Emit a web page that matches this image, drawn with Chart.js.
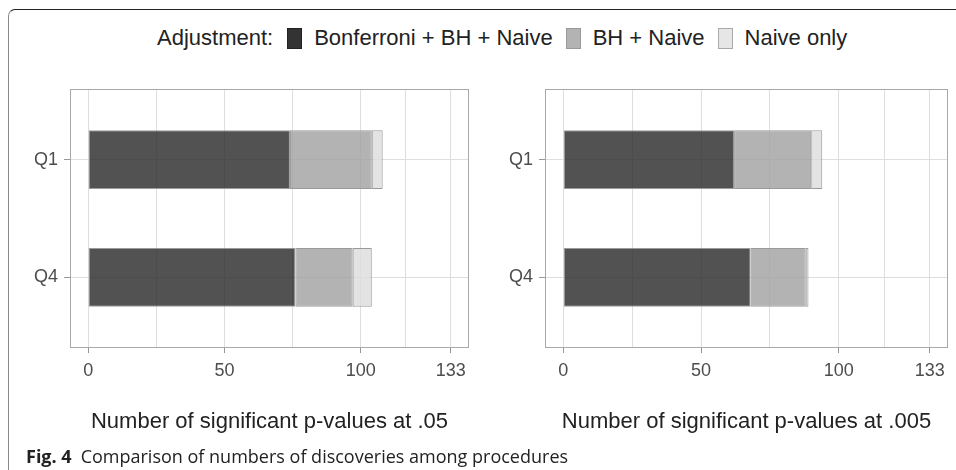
<!DOCTYPE html>
<html>
<head>
<meta charset="utf-8">
<script src="https://cdn.jsdelivr.net/npm/chart.js@4/dist/chart.umd.min.js"></script>
<style>
  body { margin: 0; background: #fff; }
  #page { position: relative; width: 956px; height: 470px; overflow: hidden; background: #fff; }
  #frame { position: absolute; left: 8px; top: 9px; width: 960px; height: 470px;
           border-left: 1.5px solid #8a8a8a; border-top: 1.5px solid #222; border-top-left-radius: 7px; }
  #legend { position: absolute; left: 157px; top: 27px; height: 22px; display: flex; align-items: center;
            font: 22px "Liberation Sans", Arial, sans-serif; color: #222; white-space: nowrap; }
  #legend .sw { width: 15px; height: 21px; box-sizing: border-box; margin: 0 12px 0 0; border: 1px solid #999; }
  #legend .lbl { margin-right: 13px; }
  canvas { position: absolute; }
  #caption { position: absolute; left: 26px; top: 444px; font: 18px "Open Sans", sans-serif; color: #222; white-space: nowrap; }
  #caption b { margin-right: 9px; }
</style>
</head>
<body>
<div id="page">
  <div id="frame"></div>
  <div id="legend"></div>
  <canvas id="left" width="470" height="400" style="left:10px;top:60px;width:470px;height:400px"></canvas>
  <canvas id="right" width="471" height="400" style="left:485px;top:60px;width:471px;height:400px"></canvas>
  <div id="caption"><b>Fig. 4</b>Comparison of numbers of discoveries among procedures</div>
</div>
<script>
// chart data
const categories = ['Q1', 'Q4'];
const seriesNames = ['Bonferroni + BH + Naive', 'BH + Naive', 'Naive only'];
const bonf05 = [74, 76];
const bh05 = [30, 21];
const naive05 = [4, 7];
const bonf005 = [62, 68];
const bh005 = [28, 20];
const naive005 = [4, 1];
const xTicks = [0, 25, 50, 75, 100, 116.5, 133];
const xLabels = [0, 50, 100, 133];

const fills = ['rgba(39,39,39,0.8)', 'rgba(160,160,160,0.8)', 'rgba(220,220,220,0.8)'];
const swatches = [['#333333', '#222222'], ['#b3b3b3', '#999999'], ['#e6e6e6', '#aaaaaa']];

Chart.defaults.font.family = '"Liberation Sans", Arial, sans-serif';

// legend built from the series names
const legend = document.getElementById('legend');
let html = '<span style="margin-right:14px">Adjustment:</span>';
seriesNames.forEach(function(name, i) {
  html += '<span class="sw" style="background:' + swatches[i][0] + ';border-color:' + swatches[i][1] + '"></span>' +
          '<span class="lbl">' + name + '</span>';
});
legend.innerHTML = html;

// panel border drawn on top of the plot area
const panelBox = {
  id: 'panelBox',
  afterDraw(chart) {
    const a = chart.chartArea;
    const c = chart.ctx;
    c.save();
    c.strokeStyle = '#a8a8a8';
    c.lineWidth = 1;
    c.strokeRect(Math.round(a.left) + 0.5, Math.round(a.top) + 0.5,
                 Math.round(a.right - a.left) - 1, Math.round(a.bottom - a.top) - 1);
    c.restore();
  }
};

function makePanel(id, series, title, padRight) {
  const datasets = series.map(function(vals, s) {
    return {
      label: seriesNames[s],
      data: categories.map((c, i) => ({ x: vals[i], y: i + 1 })),
      backgroundColor: fills[s],
      borderColor: '#9a9a9a',
      borderWidth: 1,
      borderSkipped: false,
      categoryPercentage: 0.5,
      barPercentage: 1
    };
  });

  new Chart(document.getElementById(id).getContext('2d'), {
    type: 'bar',
    data: { datasets: datasets },
    options: {
      indexAxis: 'y',
      responsive: false,
      animation: false,
      layout: { padding: { top: 29, right: padRight, bottom: 0, left: 0 } },
      plugins: { legend: { display: false }, tooltip: { enabled: false } },
      scales: {
        x: {
          type: 'linear',
          stacked: true,
          min: -6.65,
          max: 139.65,
          afterBuildTicks: s => { s.ticks = xTicks.map(v => ({ value: v })); },
          afterFit: s => { s.height = 112; },
          ticks: {
            autoSkip: false,
            maxRotation: 0,
            padding: 7,
            color: '#4d4d4d',
            font: { size: 18 },
            callback: v => xLabels.includes(v) ? String(v) : ''
          },
          grid: {
            color: '#dedede',
            tickLength: 5,
            tickColor: ctx => xLabels.includes(ctx.tick.value) ? '#999' : 'rgba(0,0,0,0)'
          },
          border: { display: false },
          title: {
            display: true,
            text: title,
            color: '#222',
            font: { size: 22 },
            padding: { top: 4, bottom: 25 }
          }
        },
        y: {
          type: 'linear',
          stacked: true,
          reverse: true,
          offset: false,
          min: 0.4,
          max: 2.6,
          afterBuildTicks: s => { s.ticks = categories.map((c, i) => ({ value: i + 1 })); },
          afterFit: s => { s.width = 60; },
          ticks: {
            autoSkip: false,
            padding: 6,
            color: '#4d4d4d',
            font: { size: 18 },
            callback: v => categories[v - 1]
          },
          grid: { offset: false, color: '#dedede', tickColor: '#999', tickLength: 6 },
          border: { display: false }
        }
      }
    },
    plugins: [panelBox]
  });
}

makePanel('left', [bonf05, bh05, naive05], 'Number of significant p-values at .05', 11);
makePanel('right', [bonf005, bh005, naive005], 'Number of significant p-values at .005', 8);
</script>
</body>
</html>
